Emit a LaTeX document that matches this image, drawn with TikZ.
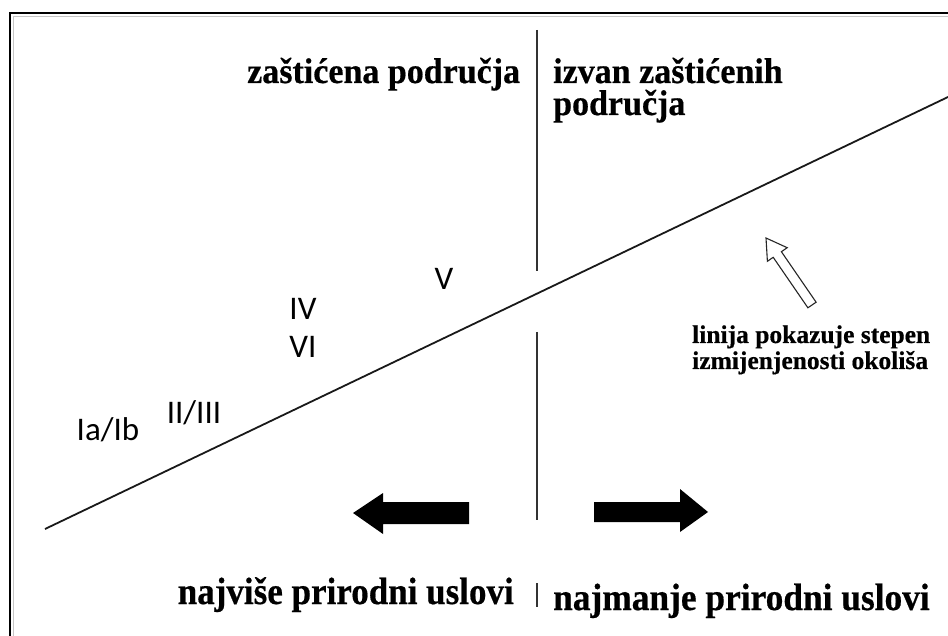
\documentclass[tikz,border=0pt]{standalone}
\usepackage{fontspec}
\setmainfont{Liberation Serif}[BoldFeatures={FakeBold=0.5}]
\newfontfamily\numfont{Carlito}
\begin{document}
\begin{tikzpicture}[x=1pt,y=-1pt,
  bigtxt/.style={font=\fontsize{34}{40}\selectfont\bfseries, inner sep=0pt},
  smalltxt/.style={font=\fontsize{25.5}{26}\selectfont\bfseries, inner sep=0pt},
  numtxt/.style={font=\numfont\fontsize{33}{36}\selectfont, inner sep=0pt, anchor=base},
  blk/.style={fill=black},
  hollow/.style={draw=black!85, line width=1.1pt, fill=white, line join=miter}]
\useasboundingbox (0,0) rectangle (948,636);
% frame
\draw[line width=2.6pt] (10,636) -- (10,13) -- (948,13);
\draw[gray!45, line width=1.5pt] (13.6,636) -- (13.6,16.4) -- (948,16.4);
% diagonal
\coordinate (dA) at (45,529);
\coordinate (dB) at (948,97);
\draw[line width=1.8pt, black!90] (dA) -- (dB);
% vertical line
\coordinate (v1) at (537,30);
\coordinate (v2) at (537,271);
\coordinate (v3) at (537,332);
\coordinate (v4) at (537,520);
\coordinate (v5) at (537,583);
\coordinate (v6) at (537,607);
\draw[line width=1.8pt, black!80] (v1) -- (v2) (v3) -- (v4) (v5) -- (v6);
% titles
\node[bigtxt, anchor=base west] (tl) at (247,83) {\scalebox{1}[1.05]{zaštićena područja}};
\node[bigtxt, anchor=base west, text depth=1pt] (tr1) at (553,83) {\scalebox{1}[1.05]{izvan zaštićenih}};
\node[bigtxt, anchor=base west, text height=22pt] (tr2) at (553,115) {\scalebox{1}[1.05]{područja}};
% numerals
\node[numtxt] (n1) at (108,440) {Ia/Ib};
\node[numtxt] (n2) at (194,423) {II/III};
\node[numtxt] (n3) at (303,320) {IV};
\node[numtxt] (n4) at (303,357) {VI};
\node[numtxt] (n5) at (444,290) {V};
% hollow arrow
\draw[hollow] (816.1,302.2) -- (781.4,251.7) -- (787.2,247.7) -- (766,238) -- (767.4,261.3) -- (773.2,257.3) -- (807.9,307.8) -- cycle;
% side note
\node[smalltxt, anchor=base west] (s1) at (692,343) {linija pokazuje stepen};
\node[smalltxt, anchor=base west] (s2) at (692,369) {izmijenjenosti okoliša};
% black arrows
\fill[blk] (469,502) -- (383,502) -- (383,493) -- (353,513) -- (383,534) -- (383,524) -- (469,524) -- cycle;
\fill[blk] (594,502) -- (680,502) -- (680,489) -- (708,512) -- (680,532) -- (680,522) -- (594,522) -- cycle;
% bottom texts
\node[bigtxt, anchor=base east] (bl) at (514,604) {\scalebox{1.03}[1.12]{najviše prirodni uslovi}};
\node[bigtxt, anchor=base west] (br) at (553,610) {\scalebox{1.04}[1.12]{najmanje prirodni uslovi}};
\end{tikzpicture}
\end{document}
